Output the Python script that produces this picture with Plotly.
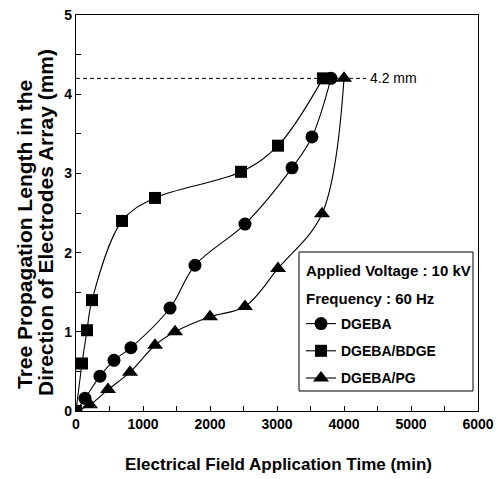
import plotly.graph_objects as go

dgeba_x = [0, 134, 358, 567, 820, 1403, 1776, 2522, 3224, 3522, 3806]
dgeba_y = [0, 0.16, 0.44, 0.64, 0.80, 1.30, 1.84, 2.36, 3.07, 3.46, 4.2]

bdge_x = [0, 90, 164, 239, 687, 1179, 2463, 3015, 3686]
bdge_y = [0, 0.60, 1.02, 1.40, 2.40, 2.69, 3.02, 3.35, 4.2]

pg_x = [0, 209, 478, 806, 1179, 1478, 2000, 2522, 3015, 3672, 4000]
pg_y = [0, 0.08, 0.27, 0.49, 0.83, 1.0, 1.19, 1.32, 1.80, 2.49, 4.2]

x_ticks = [0, 1000, 2000, 3000, 4000, 5000, 6000]
y_ticks = [0, 1, 2, 3, 4, 5]

FONT = "Liberation Sans, Arial, sans-serif"

# plot area in pixels: x 76..478, y 15..411
L, R, T, B = 76, 478, 15, 411
W, H = R - L, B - T
def px(x):
    return (x - L) / W
def py(y):
    return (B - y) / H

fig = go.Figure()
series = [
    ("DGEBA", dgeba_x, dgeba_y, "circle", 13),
    ("DGEBA/BDGE", bdge_x, bdge_y, "square", 12),
    ("DGEBA/PG", pg_x, pg_y, "triangle-up", 14),
]
for name, xs, ys, sym, sz in series:
    fig.add_trace(go.Scatter(
        x=xs, y=ys, name=name, mode="lines+markers", legendgroup=name,
        line=dict(color="black", width=1.1, shape="spline", smoothing=1.0),
        marker=dict(symbol=sym, size=sz, color="black"),
    ))

fig.add_shape(type="line", xref="x", yref="y", x0=0, x1=4330, y0=4.2, y1=4.2,
              line=dict(color="black", width=1, dash="4px,3px"))
fig.add_annotation(x=4360, y=4.2, xref="x", yref="y", text="4.2 mm",
                   showarrow=False, xanchor="left", yanchor="middle",
                   font=dict(family=FONT, size=14, color="black"))

# legend box and header lines
fig.add_shape(type="rect", xref="paper", yref="paper",
              x0=px(299), x1=px(473), y0=py(391), y1=py(252),
              line=dict(color="black", width=1), fillcolor="white", layer="above")
fig.add_annotation(x=px(304), y=py(270), xref="paper", yref="paper",
                   text="<b>Applied Voltage : 10 kV</b>", showarrow=False,
                   xanchor="left", yanchor="middle",
                   font=dict(family=FONT, size=15, color="black"))
fig.add_annotation(x=px(304), y=py(298), xref="paper", yref="paper",
                   text="<b>Frequency : 60 Hz</b>", showarrow=False,
                   xanchor="left", yanchor="middle",
                   font=dict(family=FONT, size=15, color="black"))

# axis titles
fig.add_annotation(x=px(24), y=py(235), xref="paper", yref="paper",
                   text="<b>Tree Propagation Length in the</b>", showarrow=False,
                   textangle=-90, xanchor="center", yanchor="middle",
                   font=dict(family=FONT, size=21, color="black"))
fig.add_annotation(x=px(45), y=py(223), xref="paper", yref="paper",
                   text="<b>Direction of Electrodes Array (mm)</b>", showarrow=False,
                   textangle=-90, xanchor="center", yanchor="middle",
                   font=dict(family=FONT, size=21, color="black"))
fig.add_annotation(x=px(278), y=py(465), xref="paper", yref="paper",
                   text="<b>Electrical Field Application Time (min)</b>", showarrow=False,
                   xanchor="center", yanchor="middle",
                   font=dict(family=FONT, size=17, color="black"))

axis_common = dict(
    showline=True, linecolor="black", linewidth=1.2, mirror=True,
    ticks="inside", ticklen=5, tickcolor="black", showgrid=False, zeroline=False,
    tickfont=dict(family=FONT, size=14, color="black"), automargin=False,
)

fig.update_layout(
    width=499, height=479,
    margin=dict(l=L, r=499 - R, t=T, b=479 - B),
    paper_bgcolor="white", plot_bgcolor="white",
    xaxis=dict(range=[0, 6000], tickvals=x_ticks,
               ticktext=[f"<b>{v}</b>" for v in x_ticks],
               minor=dict(ticks="inside", ticklen=5, tickcolor="black", dtick=500),
               **axis_common),
    yaxis=dict(range=[0, 5], tickvals=y_ticks,
               ticktext=[f"<b>{v}</b>" for v in y_ticks],
               minor=dict(ticks="inside", ticklen=5, tickcolor="black", dtick=0.5),
               **axis_common),
    legend=dict(
        x=px(301), y=py(308), xanchor="left", yanchor="top",
        borderwidth=0, bgcolor="rgba(0,0,0,0)",
        font=dict(family=FONT, size=14, color="black", weight="bold"),
        traceorder="grouped", tracegroupgap=6, itemwidth=30,
    ),
    showlegend=True,
)

fig.write_html("out.html", config={"displayModeBar": False},
               post_script="document.body.style.margin='0';document.body.style.overflow='hidden';")
